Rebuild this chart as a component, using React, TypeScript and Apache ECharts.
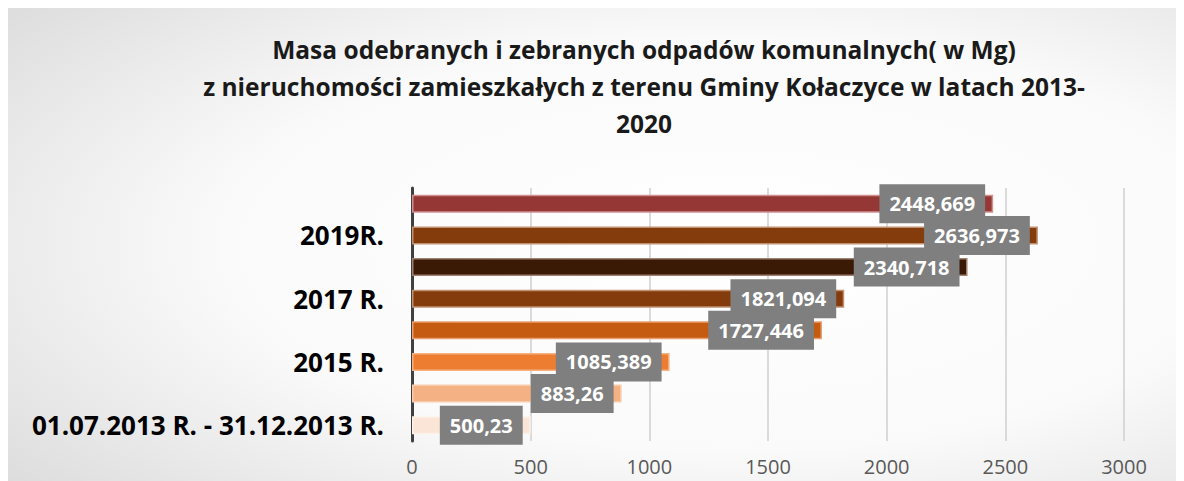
import React, { useEffect, useRef } from "react";
import * as echarts from "echarts";

const categories = [
  "01.07.2013 R. - 31.12.2013 R.",
  "2014 R.",
  "2015 R.",
  "2016 R.",
  "2017 R.",
  "2018 R.",
  "2019R.",
  "2020 R.",
];
const values = [500.23, 883.26, 1085.389, 1727.446, 1821.094, 2340.718, 2636.973, 2448.669];
const barColors = ["#FBE5D6", "#F4B183", "#ED7D31", "#C55A11", "#843C0C", "#3B1A05", "#843C0C", "#953735"];
const borderColors = ["#FDF2EA", "#F8CBAD", "#F6B183", "#E8A070", "#C09070", "#A08070", "#C09070", "#D09090"];
const xTicks = [0, 500, 1000, 1500, 2000, 2500, 3000];

const formatPL = (v: number) => String(v).replace(".", ",");

export default function App() {
  const ref = useRef<HTMLDivElement>(null);
  useEffect(() => {
    if (!ref.current) return;
    const chart = echarts.init(ref.current, null, { renderer: "svg" });
    chart.setOption({
      animation: false,
      backgroundColor: new echarts.graphic.RadialGradient(0.62, 0.5, 1.25, [
        { offset: 0, color: "#ffffff" },
        { offset: 0.35, color: "#fafafa" },
        { offset: 1, color: "#b8b8b8" },
      ]),
      title: {
        text:
          "Masa odebranych i zebranych odpadów komunalnych( w Mg)\nz nieruchomości zamieszkałych z terenu Gminy Kołaczyce w latach 2013-\n2020",
        left: 631,
        top: 18,
        textAlign: "center",
        textStyle: {
          fontFamily: "Open Sans",
          fontWeight: "bold",
          fontSize: 24.5,
          lineHeight: 37,
          color: "#1a1a1a",
        },
      },
      grid: { left: 404, right: 52, top: 180, bottom: 40, containLabel: false },
      xAxis: {
        type: "value",
        min: xTicks[0],
        max: xTicks[xTicks.length - 1],
        interval: 500,
        axisLine: { show: false },
        axisTick: { show: false },
        splitLine: { show: true, lineStyle: { color: "#cfcfcf", width: 1.5 } },
        axisLabel: {
          margin: 15,
          fontSize: 20,
          lineHeight: 20,
          fontFamily: "Open Sans",
          color: "#595959",
          formatter: (v: number) => String(v),
        },
      },
      yAxis: {
        type: "category",
        data: categories,
        axisLine: { show: true, lineStyle: { color: "#404040", width: 3 } },
        axisTick: { show: false },
        axisLabel: {
          interval: 1,
          margin: 28,
          fontSize: 26,
          fontWeight: "bold",
          fontFamily: "Open Sans",
          color: "#000",
        },
      },
      series: [
        {
          type: "bar",
          barWidth: 18,
          data: values.map((v, i) => ({
            value: v,
            itemStyle: { color: barColors[i], borderColor: borderColors[i], borderWidth: 1.5 },
          })),
          label: {
            show: true,
            position: "insideRight",
            distance: 8,
            formatter: (p: any) => formatPL(p.value),
            backgroundColor: "#7f7f7f",
            padding: [10, 10, 9, 10],
            color: "#ffffff",
            fontWeight: "bold",
            fontSize: 20,
            fontFamily: "Open Sans",
          },
        },
      ],
    });
    return () => chart.dispose();
  }, []);
  return <div ref={ref} style={{ width: 1168, height: 473 }} />;
}
